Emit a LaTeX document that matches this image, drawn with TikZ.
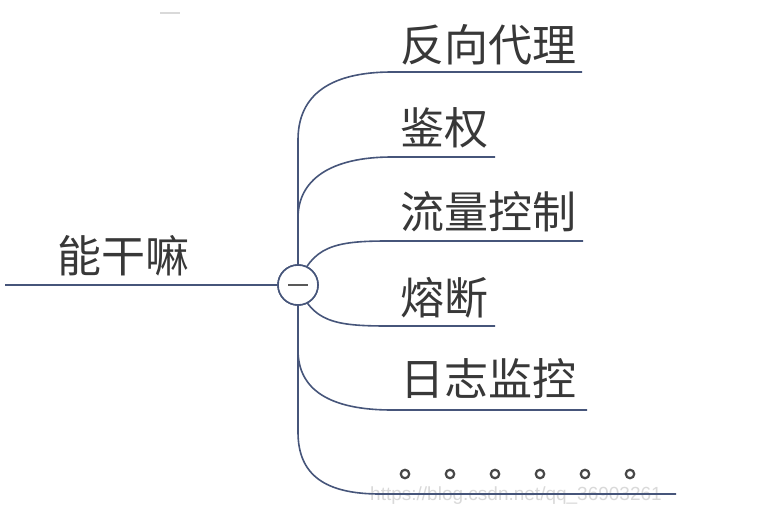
\documentclass[tikz,border=0pt]{standalone}
\usepackage{fontspec}
\setmainfont{Noto Sans CJK SC}
\newfontfamily\urlfont{Liberation Sans}
\definecolor{branch}{HTML}{46557A}
\definecolor{label}{HTML}{383838}
\definecolor{faintgray}{HTML}{D9D9D9}
\begin{document}
\begin{tikzpicture}[x=1pt,y=-1pt,
  branchline/.style={draw=branch,line width=1.6pt},
  topic/.style={anchor=base west,inner sep=0pt,text=label,font=\fontsize{44}{50}\selectfont},
  dotmark/.style={circle,draw=black!72,line width=2.2pt,minimum size=8.5pt,inner sep=0pt},
  foldbtn/.style={circle,draw=branch,fill=white,line width=1.6pt,minimum size=40pt,inner sep=0pt}]
\useasboundingbox (0,0) rectangle (770,521);
\fill[white] (0,0) rectangle (770,521);

% root label and its line
\coordinate (rootstart) at (5,285);
\node[foldbtn] (fold) at (298,285) {};
\node[topic] (root) at (57,272) {能干嘛};

% trunk
\coordinate (trunktop) at (298,140);
\coordinate (trunkbot) at (298,432);

% branch ends
\coordinate (b1s) at (392,72);  \coordinate (b1e) at (582,72);
\coordinate (b2s) at (392,157); \coordinate (b2e) at (495,157);
\coordinate (b3s) at (388,241); \coordinate (b3e) at (583,241);
\coordinate (b4s) at (388,326); \coordinate (b4e) at (495,326);
\coordinate (b5s) at (392,410); \coordinate (b5e) at (587,410);
\coordinate (b6s) at (380,494); \coordinate (b6e) at (676,494);
\coordinate (j2) at (298,218);
\coordinate (j5) at (298,350);

% watermark (under the lines)
\node[anchor=base west,inner sep=0pt,text=faintgray,font=\urlfont\fontsize{19}{22}\selectfont] (wm) at (370,500) {https://blog.csdn.net/qq\_36903261};

\draw[branchline] (rootstart) -- (fold);
\draw[branchline] (trunktop) -- (trunkbot);
\draw[branchline] (trunktop) .. controls (298,95) and (330,72) .. (b1s) -- (b1e);
\draw[branchline] (j2) .. controls (298,180) and (330,157) .. (b2s) -- (b2e);
\draw[branchline] (fold.center) .. controls (312,246) and (335,241) .. (b3s) -- (b3e);
\draw[branchline] (fold.center) .. controls (312,322) and (335,326) .. (b4s) -- (b4e);
\draw[branchline] (j5) .. controls (298,390) and (330,410) .. (b5s) -- (b5e);
\draw[branchline] (trunkbot) .. controls (298,475) and (325,494) .. (b6s) -- (b6e);

% fold button drawn over the branch roots
\node[foldbtn] at (fold) {};
\draw[black!65,line width=2.4pt] ([xshift=-10pt]fold.center) -- ([xshift=10pt]fold.center);

% branch labels
\node[topic] (t1) at (400,62) {反向代理};
\node[topic] (t2) at (400,145) {鉴权};
\node[topic] (t3) at (400,229) {流量控制};
\node[topic] (t4) at (400,314) {熔断};
\node[topic] (t5) at (400,395) {日志监控};

% ellipsis branch
\foreach \i in {0,...,5}
  \node[dotmark] (d\i) at (405+45*\i,474) {};

% small stray stroke near the top edge
\draw[faintgray,line width=2pt] (160,13) -- (180,13);
\end{tikzpicture}
\end{document}
